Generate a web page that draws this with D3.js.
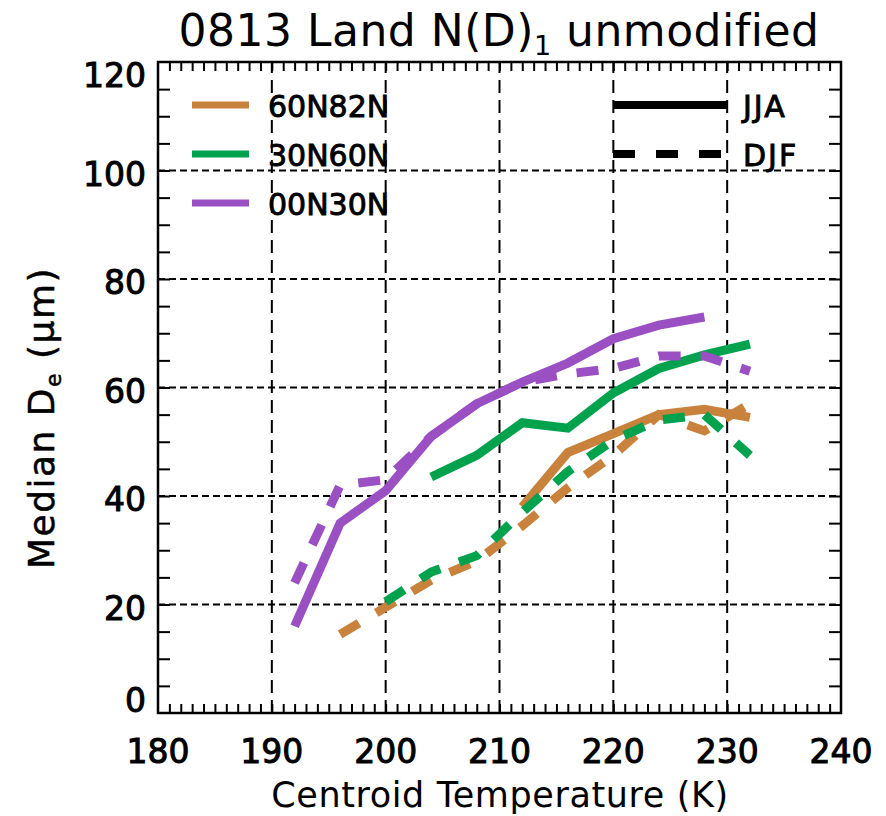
<!DOCTYPE html>
<html>
<head>
<meta charset="utf-8">
<script src="https://cdn.jsdelivr.net/npm/d3@7"></script>
<style>
  body { margin: 0; background: #fff; }
  svg { display: block; font-family: 'DejaVu Sans', sans-serif; }
</style>
</head>
<body>
<svg width="886" height="816"></svg>
<script>
// temperature bins (K)
const temps = [192, 196, 200, 204, 208, 212, 216, 220, 224, 228, 232];

// median De (um), JJA = solid, DJF = dashed
const jja60N82N = [null, null, null, null, null, 38, 48, 51.5, 55, 56, 54.5];
const jja30N60N = [null, null, null, 43.5, 47.5, 53.5, 52.5, 59, 63.5, 66, 68];
const jja00N30N = [16, 35, 41, 51, 57, 61, 64.5, 69, 71.5, 73, null];
const djf60N82N = [null, 14.5, 19.5, 24.5, 28, 34.5, 41.5, 47.5, 55, 52, 57];
const djf30N60N = [null, null, 20.5, 26, 29, 37, 44.5, 50.3, 54, 55, 47.5];
const djf00N30N = [24, 42, 43, 51, 57, 61, 62.5, 63.5, 65.8, 65.8, 63];

const regions = ['60N82N', '30N60N', '00N30N'];
const colors = ['#c9823c', '#00a24e', '#9a4fc2'];
const xTicks = [180, 190, 200, 210, 220, 230, 240];
const yTicks = [0, 20, 40, 60, 80, 100, 120];

const svg = d3.select('svg');
const x = d3.scaleLinear().domain([180, 240]).range([158, 841]);
const y = d3.scaleLinear().domain([0, 120]).range([713, 62]);

// grid
const grid = svg.append('g');
grid.selectAll('.vg')
  .data(xTicks.slice(1, -1))
  .enter().append('line')
  .attr('x1', d => x(d)).attr('x2', d => x(d))
  .attr('y1', y(0)).attr('y2', y(120))
  .attr('stroke', '#000').attr('stroke-width', 2)
  .attr('stroke-dasharray', '13,7');
grid.selectAll('.hg')
  .data(yTicks.slice(1, -1))
  .enter().append('line')
  .attr('y1', d => y(d)).attr('y2', d => y(d))
  .attr('x1', x(180)).attr('x2', x(240))
  .attr('stroke', '#000').attr('stroke-width', 2)
  .attr('stroke-dasharray', '7,4');

// minor ticks (inward) on all four sides
const axBottom = d3.axisBottom(x).tickValues(d3.range(181, 240)).tickSize(-9).tickFormat('');
const axTop = d3.axisTop(x).tickValues(d3.range(181, 240)).tickSize(-9).tickFormat('');
const axLeft = d3.axisLeft(y).tickValues(d3.range(5, 120, 5)).tickSize(-12).tickFormat('');
const axRight = d3.axisRight(y).tickValues(d3.range(5, 120, 5)).tickSize(-12).tickFormat('');
[[axBottom, `translate(0,${y(0)})`], [axTop, `translate(0,${y(120)})`],
 [axLeft, `translate(${x(180)},0)`], [axRight, `translate(${x(240)},0)`]].forEach(([ax, tr]) => {
  const g = svg.append('g').attr('transform', tr).call(ax);
  g.select('.domain').remove();
  g.selectAll('line').attr('stroke', '#000').attr('stroke-width', 2);
});

svg.append('rect')
  .attr('x', x(180)).attr('y', y(120))
  .attr('width', x(240) - x(180)).attr('height', y(0) - y(120))
  .attr('fill', 'none').attr('stroke', '#000').attr('stroke-width', 2.5);

// tick labels
svg.append('g').selectAll('text')
  .data(xTicks)
  .enter().append('text')
  .attr('x', d => x(d)).attr('y', 763)
  .attr('text-anchor', 'middle')
  .attr('font-size', 33)
  .attr('stroke', '#000').attr('stroke-width', 1)
  .text(d => d);

svg.append('g').selectAll('text')
  .data(yTicks)
  .enter().append('text')
  .attr('x', 146)
  .attr('y', d => d === 120 ? 87 : d === 0 ? 712 : y(d) + 15)
  .attr('text-anchor', 'end')
  .attr('font-size', 33)
  .attr('stroke', '#000').attr('stroke-width', 1)
  .text(d => d);

// lines
const line = d3.line()
  .defined(d => d[1] !== null)
  .x(d => x(d[0]))
  .y(d => y(d[1]));

const series = [
  [djf60N82N, 0, true], [jja60N82N, 0, false],
  [djf30N60N, 1, true], [jja30N60N, 1, false],
  [jja00N30N, 2, false], [djf00N30N, 2, true]
];
const plot = svg.append('g');
series.forEach(([vals, c, dashed]) => {
  plot.append('path')
    .datum(temps.map((t, i) => [t, vals[i]]))
    .attr('d', line)
    .attr('fill', 'none')
    .attr('stroke', colors[c])
    .attr('stroke-width', 9)
    .attr('stroke-dasharray', dashed ? '22,20' : null);
});

// legend
const legY = [105, 154, 203];
regions.forEach((r, i) => {
  svg.append('line')
    .attr('x1', 192).attr('x2', 249)
    .attr('y1', legY[i]).attr('y2', legY[i])
    .attr('stroke', colors[i]).attr('stroke-width', 7);
  svg.append('text')
    .attr('x', 268).attr('y', legY[i] + 12)
    .attr('font-size', 30)
    .attr('stroke', '#000').attr('stroke-width', 0.9)
    .text(r);
});
[['JJA', null], ['DJF', '22,21']].forEach(([s, dash], i) => {
  svg.append('line')
    .attr('x1', 613).attr('x2', 727)
    .attr('y1', legY[i]).attr('y2', legY[i])
    .attr('stroke', '#000').attr('stroke-width', 8)
    .attr('stroke-dasharray', dash);
  svg.append('text')
    .attr('x', 743).attr('y', legY[i] + 12)
    .attr('font-size', 30)
    .attr('letter-spacing', 2)
    .attr('stroke', '#000').attr('stroke-width', 0.9)
    .text(s);
});

// titles
const title = svg.append('text')
  .attr('x', 499).attr('y', 46)
  .attr('text-anchor', 'middle')
  .attr('font-size', 44)
  .attr('letter-spacing', 0.5);
title.append('tspan').text('0813 Land N(D)');
title.append('tspan').attr('font-size', 27).attr('dy', 9).text('1');
title.append('tspan').attr('dy', -9).text(' unmodified');

svg.append('text')
  .attr('x', 500).attr('y', 807)
  .attr('text-anchor', 'middle')
  .attr('font-size', 35)
  .attr('letter-spacing', 0.6)
  .text('Centroid Temperature (K)');

const yt = svg.append('text')
  .attr('transform', 'translate(54,418) rotate(-90)')
  .attr('text-anchor', 'middle')
  .attr('font-size', 36)
  .attr('letter-spacing', 1.5)
  .attr('stroke', '#000').attr('stroke-width', 0.5);
yt.append('tspan').text('Median D');
yt.append('tspan').attr('font-size', 22).attr('dy', 7).text('e');
yt.append('tspan').attr('dy', -7).text(' (μm)');
</script>
</body>
</html>
